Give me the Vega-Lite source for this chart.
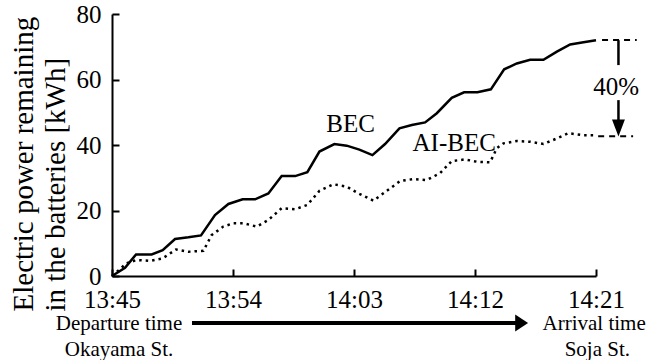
{
  "$schema": "https://vega.github.io/schema/vega-lite/v6.json",
  "width": 484,
  "height": 262,
  "autosize": {"type": "none"},
  "padding": {"left": 112, "top": 14, "right": 51, "bottom": 84},
  "background": "white",
  "config": {
    "view": {"stroke": null},
    "font": "Liberation Serif",
    "axis": {"domainColor": "black", "domainWidth": 2, "tickColor": "black", "tickWidth": 2, "labelColor": "black", "titleColor": "black", "grid": false, "labelFont": "Liberation Serif", "titleFont": "Liberation Serif", "titleFontWeight": "normal"}
  },
  "datasets": {
    "series": [
      {"t": 0, "v": 0, "s": "BEC"},
      {"t": 0.97, "v": 2.5, "s": "BEC"},
      {"t": 1.79, "v": 6.6, "s": "BEC"},
      {"t": 2.95, "v": 6.6, "s": "BEC"},
      {"t": 3.77, "v": 7.9, "s": "BEC"},
      {"t": 4.69, "v": 11.3, "s": "BEC"},
      {"t": 5.68, "v": 11.8, "s": "BEC"},
      {"t": 6.62, "v": 12.4, "s": "BEC"},
      {"t": 7.66, "v": 18.6, "s": "BEC"},
      {"t": 8.66, "v": 22, "s": "BEC"},
      {"t": 9.72, "v": 23.4, "s": "BEC"},
      {"t": 10.64, "v": 23.4, "s": "BEC"},
      {"t": 11.63, "v": 25.2, "s": "BEC"},
      {"t": 12.62, "v": 30.5, "s": "BEC"},
      {"t": 13.62, "v": 30.5, "s": "BEC"},
      {"t": 14.53, "v": 31.7, "s": "BEC"},
      {"t": 15.43, "v": 38, "s": "BEC"},
      {"t": 16.54, "v": 40.3, "s": "BEC"},
      {"t": 17.46, "v": 39.8, "s": "BEC"},
      {"t": 18.4, "v": 38.6, "s": "BEC"},
      {"t": 19.37, "v": 36.9, "s": "BEC"},
      {"t": 20.31, "v": 40.3, "s": "BEC"},
      {"t": 21.38, "v": 45.1, "s": "BEC"},
      {"t": 22.3, "v": 46.1, "s": "BEC"},
      {"t": 23.29, "v": 46.9, "s": "BEC"},
      {"t": 24.16, "v": 49.7, "s": "BEC"},
      {"t": 25.27, "v": 54.4, "s": "BEC"},
      {"t": 26.19, "v": 56.1, "s": "BEC"},
      {"t": 27.18, "v": 56.1, "s": "BEC"},
      {"t": 28.18, "v": 57, "s": "BEC"},
      {"t": 29.17, "v": 63.1, "s": "BEC"},
      {"t": 30.11, "v": 64.9, "s": "BEC"},
      {"t": 31.1, "v": 66, "s": "BEC"},
      {"t": 32.09, "v": 66, "s": "BEC"},
      {"t": 33.09, "v": 68.5, "s": "BEC"},
      {"t": 34.08, "v": 70.7, "s": "BEC"},
      {"t": 35.07, "v": 71.4, "s": "BEC"},
      {"t": 36, "v": 72, "s": "BEC"},
      {"t": 0, "v": 0, "s": "AI-BEC"},
      {"t": 1.09, "v": 3.9, "s": "AI-BEC"},
      {"t": 1.84, "v": 4.9, "s": "AI-BEC"},
      {"t": 2.83, "v": 4.6, "s": "AI-BEC"},
      {"t": 3.77, "v": 5.4, "s": "AI-BEC"},
      {"t": 4.76, "v": 8.1, "s": "AI-BEC"},
      {"t": 5.68, "v": 7.4, "s": "AI-BEC"},
      {"t": 6.8, "v": 7.7, "s": "AI-BEC"},
      {"t": 7.41, "v": 12.5, "s": "AI-BEC"},
      {"t": 8.28, "v": 15.1, "s": "AI-BEC"},
      {"t": 9.03, "v": 16.1, "s": "AI-BEC"},
      {"t": 9.77, "v": 16.1, "s": "AI-BEC"},
      {"t": 10.77, "v": 15.1, "s": "AI-BEC"},
      {"t": 11.63, "v": 17.1, "s": "AI-BEC"},
      {"t": 12.62, "v": 20.7, "s": "AI-BEC"},
      {"t": 13.62, "v": 20.4, "s": "AI-BEC"},
      {"t": 14.53, "v": 21.7, "s": "AI-BEC"},
      {"t": 15.43, "v": 26, "s": "AI-BEC"},
      {"t": 16.47, "v": 28, "s": "AI-BEC"},
      {"t": 17.46, "v": 27.3, "s": "AI-BEC"},
      {"t": 18.3, "v": 25.3, "s": "AI-BEC"},
      {"t": 19.44, "v": 23, "s": "AI-BEC"},
      {"t": 20.44, "v": 26, "s": "AI-BEC"},
      {"t": 21.43, "v": 29, "s": "AI-BEC"},
      {"t": 22.42, "v": 29.6, "s": "AI-BEC"},
      {"t": 23.41, "v": 29.3, "s": "AI-BEC"},
      {"t": 24.4, "v": 31.4, "s": "AI-BEC"},
      {"t": 25.27, "v": 35.1, "s": "AI-BEC"},
      {"t": 26.26, "v": 35.6, "s": "AI-BEC"},
      {"t": 27.13, "v": 34.9, "s": "AI-BEC"},
      {"t": 28.12, "v": 34.7, "s": "AI-BEC"},
      {"t": 28.62, "v": 39, "s": "AI-BEC"},
      {"t": 29.12, "v": 40.5, "s": "AI-BEC"},
      {"t": 30.11, "v": 41.2, "s": "AI-BEC"},
      {"t": 31.1, "v": 41, "s": "AI-BEC"},
      {"t": 32.09, "v": 40.3, "s": "AI-BEC"},
      {"t": 33.09, "v": 42, "s": "AI-BEC"},
      {"t": 33.95, "v": 43.6, "s": "AI-BEC"},
      {"t": 35.07, "v": 43, "s": "AI-BEC"},
      {"t": 35.8, "v": 43, "s": "AI-BEC"}
    ],
    "labels": [
      {"t": 17.75, "v": 46.4, "text": "BEC"},
      {"t": 25.45, "v": 40.6, "text": "AI-BEC"},
      {"t": 37.5, "v": 57.8, "text": "40%"}
    ],
    "bottom": [
      {"t": 0.52, "v": -14.6, "text": "Departure time"},
      {"t": 0.52, "v": -22.5, "text": "Okayama St."},
      {"t": 35.86, "v": -14.6, "text": "Arrival time"},
      {"t": 36.1, "v": -22.7, "text": "Soja St."}
    ],
    "dashes": [
      {"t": 36.45, "t2": 39.03, "v": 72.06, "v2": 72.06},
      {"t": 36.16, "t2": 38.76, "v": 42.7, "v2": 42.7}
    ],
    "vsegs": [
      {"t": 37.67, "t2": 37.67, "v": 72.0, "v2": 64.4},
      {"t": 37.67, "t2": 37.67, "v": 53.7, "v2": 47.0}
    ],
    "harrow": [
      {"t": 5.95, "t2": 30.1, "v": -14.35, "v2": -14.35}
    ],
    "headDown": [{"t": 37.67, "v": 45.2}],
    "headRight": [{"t": 30.47, "v": -14.35}]
  },
  "layer": [
    {
      "data": {"name": "series"},
      "transform": [{"filter": "datum.s === 'BEC'"}],
      "mark": {"type": "line", "color": "black", "strokeWidth": 2.5, "clip": false},
      "encoding": {
        "x": {"field": "t", "type": "quantitative", "scale": {"domain": [0, 36], "nice": false, "zero": false},
          "axis": {"values": [0, 9, 18, 27, 36], "labelExpr": "['13:45','13:54','14:03','14:12','14:21'][round(datum.value/9)]", "tickSize": -7, "labelPadding": 30, "labelBaseline": "middle", "labelFontSize": 25, "title": null, "labelFlush": false}},
        "y": {"field": "v", "type": "quantitative", "scale": {"domain": [0, 80], "nice": false},
          "axis": {"values": [0, 20, 40, 60, 80], "tickSize": -7, "labelPadding": 18, "labelFontSize": 25, "labelFlush": false,
            "title": ["Electric power remaining", "in the batteries  [kWh]"], "titleFontSize": 29, "titleLineHeight": 32, "titleAngle": 270, "titleAlign": "left", "titleBaseline": "alphabetic", "titleX": -80, "titleY": 297}}
      }
    },
    {
      "data": {"name": "series"},
      "transform": [{"filter": "datum.s === 'AI-BEC'"}],
      "mark": {"type": "line", "color": "black", "strokeWidth": 2.5, "strokeDash": [2.5, 4], "clip": false},
      "encoding": {
        "x": {"field": "t", "type": "quantitative"},
        "y": {"field": "v", "type": "quantitative"}
      }
    },
    {
      "data": {"name": "labels"},
      "mark": {"type": "text", "fontSize": 25, "font": "Liberation Serif", "color": "black", "align": "center", "baseline": "middle"},
      "encoding": {
        "x": {"field": "t", "type": "quantitative"},
        "y": {"field": "v", "type": "quantitative"},
        "text": {"field": "text"}
      }
    },
    {
      "data": {"name": "bottom"},
      "mark": {"type": "text", "fontSize": 21, "font": "Liberation Serif", "color": "black", "align": "center", "baseline": "middle"},
      "encoding": {
        "x": {"field": "t", "type": "quantitative"},
        "y": {"field": "v", "type": "quantitative"},
        "text": {"field": "text"}
      }
    },
    {
      "data": {"name": "dashes"},
      "mark": {"type": "rule", "color": "black", "strokeWidth": 2, "strokeDash": [6, 5]},
      "encoding": {
        "x": {"field": "t", "type": "quantitative"},
        "x2": {"field": "t2"},
        "y": {"field": "v", "type": "quantitative"},
        "y2": {"field": "v2"}
      }
    },
    {
      "data": {"name": "vsegs"},
      "mark": {"type": "rule", "color": "black", "strokeWidth": 2.5},
      "encoding": {
        "x": {"field": "t", "type": "quantitative"},
        "x2": {"field": "t2"},
        "y": {"field": "v", "type": "quantitative"},
        "y2": {"field": "v2"}
      }
    },
    {
      "data": {"name": "harrow"},
      "mark": {"type": "rule", "color": "black", "strokeWidth": 4},
      "encoding": {
        "x": {"field": "t", "type": "quantitative"},
        "x2": {"field": "t2"},
        "y": {"field": "v", "type": "quantitative"},
        "y2": {"field": "v2"}
      }
    },
    {
      "data": {"name": "headDown"},
      "mark": {"type": "point", "shape": "M-0.76,-1L0.76,-1L0,1Z", "size": 289, "filled": true, "color": "black", "opacity": 1},
      "encoding": {
        "x": {"field": "t", "type": "quantitative"},
        "y": {"field": "v", "type": "quantitative"}
      }
    },
    {
      "data": {"name": "headRight"},
      "mark": {"type": "point", "shape": "M-0.76,-1L0.76,0L-0.76,1Z", "size": 289, "filled": true, "color": "black", "opacity": 1},
      "encoding": {
        "x": {"field": "t", "type": "quantitative"},
        "y": {"field": "v", "type": "quantitative"}
      }
    }
  ]
}
